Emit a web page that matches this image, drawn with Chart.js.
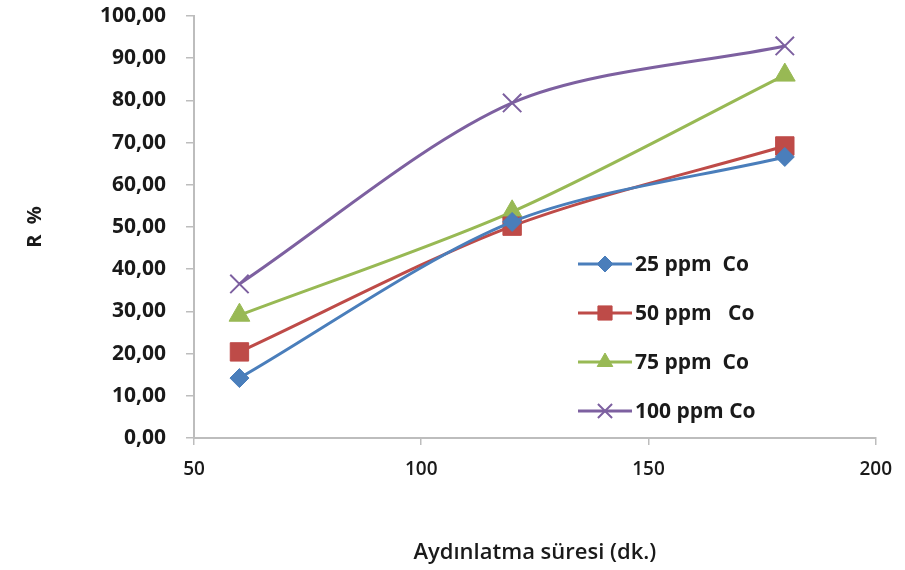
<!DOCTYPE html>
<html><head><meta charset="utf-8">
<script src="https://cdn.jsdelivr.net/npm/chart.js@4"></script>
<style>html,body{margin:0;padding:0;background:#fff}#wrap{width:905px;height:570px}</style>
</head><body><div id="wrap"><canvas id="c"></canvas></div>
<script>
const times = [60, 120, 180];
const seriesNames = ["25 ppm  Co", "50 ppm   Co", "75 ppm  Co", "100 ppm Co"];
const co25 = [14.2, 51.2, 66.6];
const co50 = [20.4, 50.2, 69.2];
const co75 = [29.1, 53.6, 86.0];
const co100 = [36.5, 79.4, 92.9];
const xTitle = "Aydınlatma süresi (dk.)";
const yTitle = "R  %";

const colors = ["#4A7EBB", "#BE4B48", "#98B954", "#7D60A0"];
const styles = ["rectRot", "rect", "triangle", "crossRot"];
const radii = [9.5, 13, 12, 13];
const legendRadii = [8, 10, 9, 10];
const allData = [co25, co50, co75, co100];

const datasets = allData.map((vals, i) => ({
  label: seriesNames[i],
  data: times.map((t, j) => ({x: t, y: vals[j]})),
  borderColor: colors[i],
  backgroundColor: colors[i],
  borderWidth: 3,
  pointStyle: styles[i],
  pointRadius: radii[i],
  pointBorderWidth: i === 3 ? 2 : 1,
  pointBorderColor: colors[i],
  tension: 0.3
}));

const legendPlugin = {
  id: 'insideLegend',
  afterDraw(chart) {
    const ctx = chart.ctx;
    const x0 = 578, y0 = 264, gap = 49;
    chart.data.datasets.forEach((ds, i) => {
      const y = y0 + i * gap;
      ctx.save();
      ctx.strokeStyle = ds.borderColor;
      ctx.lineWidth = 3;
      ctx.beginPath(); ctx.moveTo(x0, y); ctx.lineTo(x0 + 54, y); ctx.stroke();
      ctx.fillStyle = ds.backgroundColor;
      ctx.lineWidth = ds.pointBorderWidth;
      Chart.helpers.drawPoint(ctx, {pointStyle: ds.pointStyle, radius: legendRadii[i], borderWidth: ds.pointBorderWidth}, x0 + 27, y);
      ctx.fillStyle = "#1a1a1a";
      ctx.font = "bold 21px 'Open Sans'";
      ctx.textBaseline = "middle";
      ctx.textAlign = "left";
      ctx.fillText(ds.label, x0 + 57, y + 1);
      ctx.restore();
    });
  }
};

new Chart(document.getElementById('c'), {
  type: 'line',
  data: {datasets},
  options: {
    responsive: true, maintainAspectRatio: false, animation: false,
    layout: {padding: {left: 0, right: 28, top: 16, bottom: 0}},
    plugins: {legend: {display: false}, tooltip: {enabled: false}},
    scales: {
      x: {
        type: 'linear', min: 50, max: 200,
        ticks: {stepSize: 50, color: "#1a1a1a", font: {family: "Open Sans", size: 19, weight: "600"}, padding: 13},
        grid: {display: true, drawOnChartArea: false, drawTicks: true, tickLength: 7, color: "#bdbdbd", lineWidth: 1.5},
        border: {color: "#bdbdbd", width: 2},
        title: {display: true, text: xTitle, color: "#1a1a1a", font: {family: "Open Sans", size: 22, weight: "600"}, padding: {top: 40, bottom: 4}},
        afterFit(s) { s.height = 132; }
      },
      y: {
        min: 0, max: 100,
        ticks: {stepSize: 10, color: "#1a1a1a", font: {family: "Open Sans", size: 21, weight: "bold"}, padding: 20,
          callback: v => v.toFixed(2).replace('.', ',')},
        grid: {display: true, drawOnChartArea: false, drawTicks: true, tickLength: 8, color: "#bdbdbd", lineWidth: 1.5},
        border: {color: "#bdbdbd", width: 2},
        title: {display: true, text: yTitle, color: "#1a1a1a", font: {family: "Open Sans", size: 20, weight: "bold"}, padding: {top: 23, bottom: 10}},
        afterFit(s) { s.width = 194; s.paddingTop = 0; s.paddingBottom = 0; }
      }
    }
  },
  plugins: [legendPlugin]
});
</script></body></html>
